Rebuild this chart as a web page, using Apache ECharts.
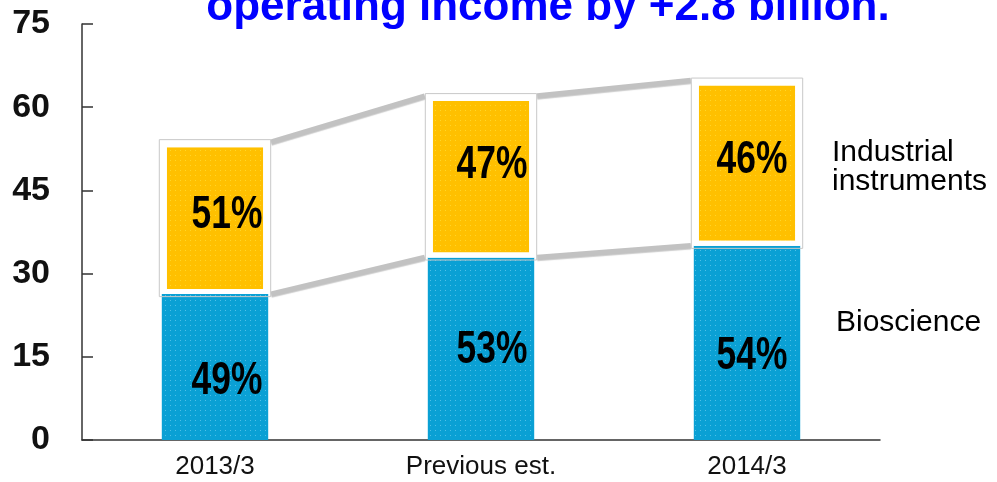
<!DOCTYPE html>
<html>
<head>
<meta charset="utf-8">
<script src="https://cdn.jsdelivr.net/npm/echarts@6/dist/echarts.min.js"></script>
<style>
  html, body { margin: 0; padding: 0; background: #fff; }
  #chart { width: 997px; height: 482px; }
</style>
</head>
<body>
<div id="chart"></div>
<script>
// Operating income by segment (billion yen)
const categories = ['2013/3', 'Previous est.', '2014/3'];
const bioscience = [26.3, 32.9, 35.0];
const industrial = [27.4, 29.1, 29.8];
const yTicks = [0, 15, 30, 45, 60, 75];

// label nudges inside each segment, [dx, dy] in px
const bioLabelShift = [[12, 14], [11, 2], [5, 13]];
const indLabelShift = [[12, -3], [11, -11], [5, -3]];

const BAR_RATIO = 0.4;
const totals = bioscience.map((v, i) => v + industrial[i]);
const pct = (v, i) => Math.round(v / totals[i] * 100) + '%';

const chart = echarts.init(document.getElementById('chart'), null, { renderer: 'canvas' });

// Per category: frame around the upper segment, share labels,
// and grey connectors to the next bar.
function renderOverlay(params, api) {
  const i = api.value(0);
  const halfBar = api.size([1, 0])[0] * BAR_RATIO / 2;
  const base = api.coord([i, 0]);
  const mid = api.coord([i, bioscience[i]]);
  const top = api.coord([i, totals[i]]);
  const cx = base[0];
  const children = [];

  // thin grey outline around the white-bordered upper segment
  children.push({
    type: 'rect',
    shape: { x: cx - halfBar - 2.5, y: top[1] - 2.5, width: halfBar * 2 + 5, height: mid[1] - top[1] + 5 },
    style: { fill: null, stroke: '#c8c8c8', lineWidth: 1 },
    z2: 5
  });

  // connectors
  if (i < categories.length - 1) {
    [bioscience, totals].forEach(arr => {
      const a = api.coord([i, arr[i]]);
      const b = api.coord([i + 1, arr[i + 1]]);
      children.push({
        type: 'line',
        shape: { x1: a[0] + halfBar + 3, y1: a[1], x2: b[0] - halfBar - 3, y2: b[1] },
        style: { stroke: '#c2c2c2', lineWidth: 5.5, shadowColor: 'rgba(0,0,0,0.2)', shadowBlur: 1, shadowOffsetY: 1 },
        z2: 1
      });
    });
  }

  // share labels
  const labelAt = (yMid, shift, text) => ({
    type: 'text',
    x: cx + shift[0],
    y: yMid + shift[1],
    scaleX: 0.77,
    style: {
      text,
      font: 'bold 46px "Liberation Sans", Arial, sans-serif',
      fill: '#000',
      align: 'center',
      verticalAlign: 'middle'
    },
    z2: 10
  });
  children.push(labelAt((base[1] + mid[1]) / 2, bioLabelShift[i], pct(bioscience[i], i)));
  children.push(labelAt((mid[1] + top[1]) / 2, indLabelShift[i], pct(industrial[i], i)));

  return { type: 'group', children };
}

chart.setOption({
  animation: false,
  grid: { left: 82, right: 117, top: 24, bottom: 42 },
  xAxis: {
    type: 'category',
    data: categories,
    axisLine: { lineStyle: { color: '#333', width: 1.5 } },
    axisTick: { inside: true, length: 10, lineStyle: { color: '#333', width: 1.5 } },
    axisLabel: {
      margin: 14,
      fontFamily: '"Liberation Sans", Arial, sans-serif',
      fontSize: 26,
      color: '#111'
    }
  },
  yAxis: {
    type: 'value',
    min: yTicks[0],
    max: yTicks[yTicks.length - 1],
    interval: 15,
    splitLine: { show: false },
    axisLine: { show: true, lineStyle: { color: '#333', width: 1.5 } },
    axisTick: { show: true, inside: true, length: 11, lineStyle: { color: '#333', width: 1.5 } },
    axisLabel: {
      margin: 32,
      fontFamily: '"Liberation Sans", Arial, sans-serif',
      fontWeight: 'bold',
      fontSize: 34,
      color: '#111'
    }
  },
  graphic: [
    {
      type: 'text', x: 548, y: 8,
      style: {
        text: 'operating income by +2.8 billion.',
        fill: '#0000ff',
        font: 'bold 44px "Liberation Sans", Arial, sans-serif',
        align: 'center', verticalAlign: 'middle'
      }
    },
    {
      type: 'text', x: 832, y: 153,
      style: { text: 'Industrial', fill: '#000', font: '30px "Liberation Sans", Arial, sans-serif', verticalAlign: 'middle' }
    },
    {
      type: 'text', x: 832, y: 182,
      style: { text: 'instruments', fill: '#000', font: '30px "Liberation Sans", Arial, sans-serif', verticalAlign: 'middle' }
    },
    {
      type: 'text', x: 836, y: 323,
      style: { text: 'Bioscience', fill: '#000', font: '30px "Liberation Sans", Arial, sans-serif', verticalAlign: 'middle' }
    }
  ],
  series: [
    {
      name: 'Bioscience',
      type: 'bar',
      stack: 'seg',
      barWidth: (BAR_RATIO * 100) + '%',
      data: bioscience,
      itemStyle: {
        color: '#0aa0d4',
        decal: {
          symbol: 'rect', symbolSize: 1,
          color: 'rgba(160,230,255,0.45)',
          dashArrayX: [1, 3.5], dashArrayY: [1, 3.5]
        }
      },
      z: 2
    },
    {
      name: 'Industrial instruments',
      type: 'bar',
      stack: 'seg',
      data: industrial,
      itemStyle: {
        color: '#ffc000',
        borderColor: '#ffffff',
        borderWidth: 5,
        decal: {
          symbol: 'rect', symbolSize: 1,
          color: 'rgba(255,235,80,0.5)',
          dashArrayX: [1, 3.5], dashArrayY: [1, 3.5]
        }
      },
      z: 3
    },
    {
      type: 'custom',
      renderItem: renderOverlay,
      data: categories.map((_, i) => [i]),
      encode: { x: 0 },
      silent: true,
      z: 4
    }
  ]
});
</script>
</body>
</html>
